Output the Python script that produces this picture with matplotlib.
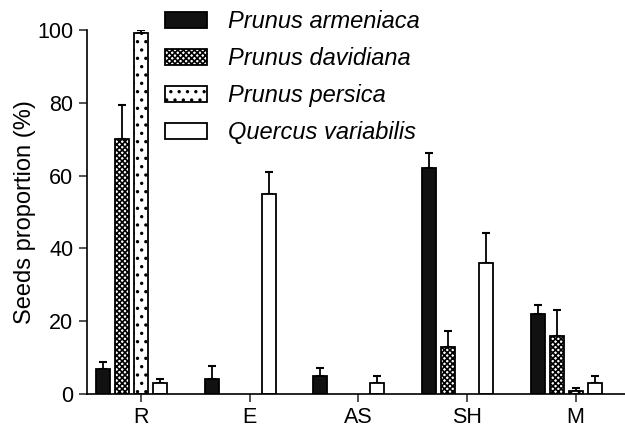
import numpy as np
import matplotlib
matplotlib.use('Agg')
import matplotlib.pyplot as plt

plt.rcParams['font.family'] = ['Liberation Sans', 'DejaVu Sans']
plt.rcParams['hatch.linewidth'] = 1.2

sites = ['R', 'E', 'AS', 'SH', 'M']
species = ['Prunus armeniaca', 'Prunus davidiana', 'Prunus persica', 'Quercus variabilis']

# mean seed proportion (%) per site, nan = no bar
armeniaca = [7.0, 4.0, 5.0, 62.0, 22.0]
davidiana = [70.0, np.nan, np.nan, 13.0, 16.0]
persica = [99.2, np.nan, np.nan, np.nan, 0.9]
variabilis = [3.0, 55.0, 3.0, 36.0, 3.0]

# upper error (SE)
armeniaca_err = [1.9, 3.8, 2.1, 4.1, 2.4]
davidiana_err = [9.4, np.nan, np.nan, 4.4, 7.0]
persica_err = [0.9, np.nan, np.nan, np.nan, 0.8]
variabilis_err = [1.0, 5.9, 1.9, 8.3, 2.0]

means = [armeniaca, davidiana, persica, variabilis]
errs = [armeniaca_err, davidiana_err, persica_err, variabilis_err]
faces = ['#111111', 'white', 'white', 'white']
hatches = [None, 'xxxxxx', '..', None]

fig = plt.figure(figsize=(6.25, 4.28), dpi=100)
ax = fig.add_axes([0.1386, 0.0794, 0.8694, 0.8505])

x = np.arange(len(sites))
step = 0.175
w = 0.13
for i in range(4):
    pos = x + (i - 2) * step
    m = np.array(means[i])
    e = np.array(errs[i])
    ax.bar(pos, m, width=w, color=faces[i], edgecolor='black', linewidth=1.3,
           hatch=hatches[i], label=species[i], zorder=2)
    ax.errorbar(pos, m, yerr=[np.zeros_like(e), e], fmt='none', ecolor='black',
                elinewidth=1.3, capsize=2.6, capthick=1.5, zorder=1)

ax.set_xlim(-0.5, 4.5)
ax.set_ylim(0, 100)
ax.set_yticks([0, 20, 40, 60, 80, 100])
ax.set_xticks(x)
ax.set_xticklabels(sites)
ax.tick_params(axis='both', labelsize=15.5, length=6, width=1.2, color='#333333')
ax.tick_params(axis='x', pad=3)
ax.spines['top'].set_visible(False)
ax.spines['right'].set_visible(False)
ax.spines['left'].set_linewidth(1.2)
ax.spines['bottom'].set_linewidth(1.2)
ax.set_ylabel('Seeds proportion (%)', fontsize=17, labelpad=1)

leg = ax.legend(loc='upper left', bbox_to_anchor=(165 / 625, 1 - 10 / 428),
                bbox_transform=fig.transFigure, frameon=False,
                prop={'style': 'italic', 'size': 17},
                handlelength=1.78, handleheight=0.64, handletextpad=0.9,
                labelspacing=0.6, borderpad=0, borderaxespad=0)

fig.savefig('out.png', dpi=100)
